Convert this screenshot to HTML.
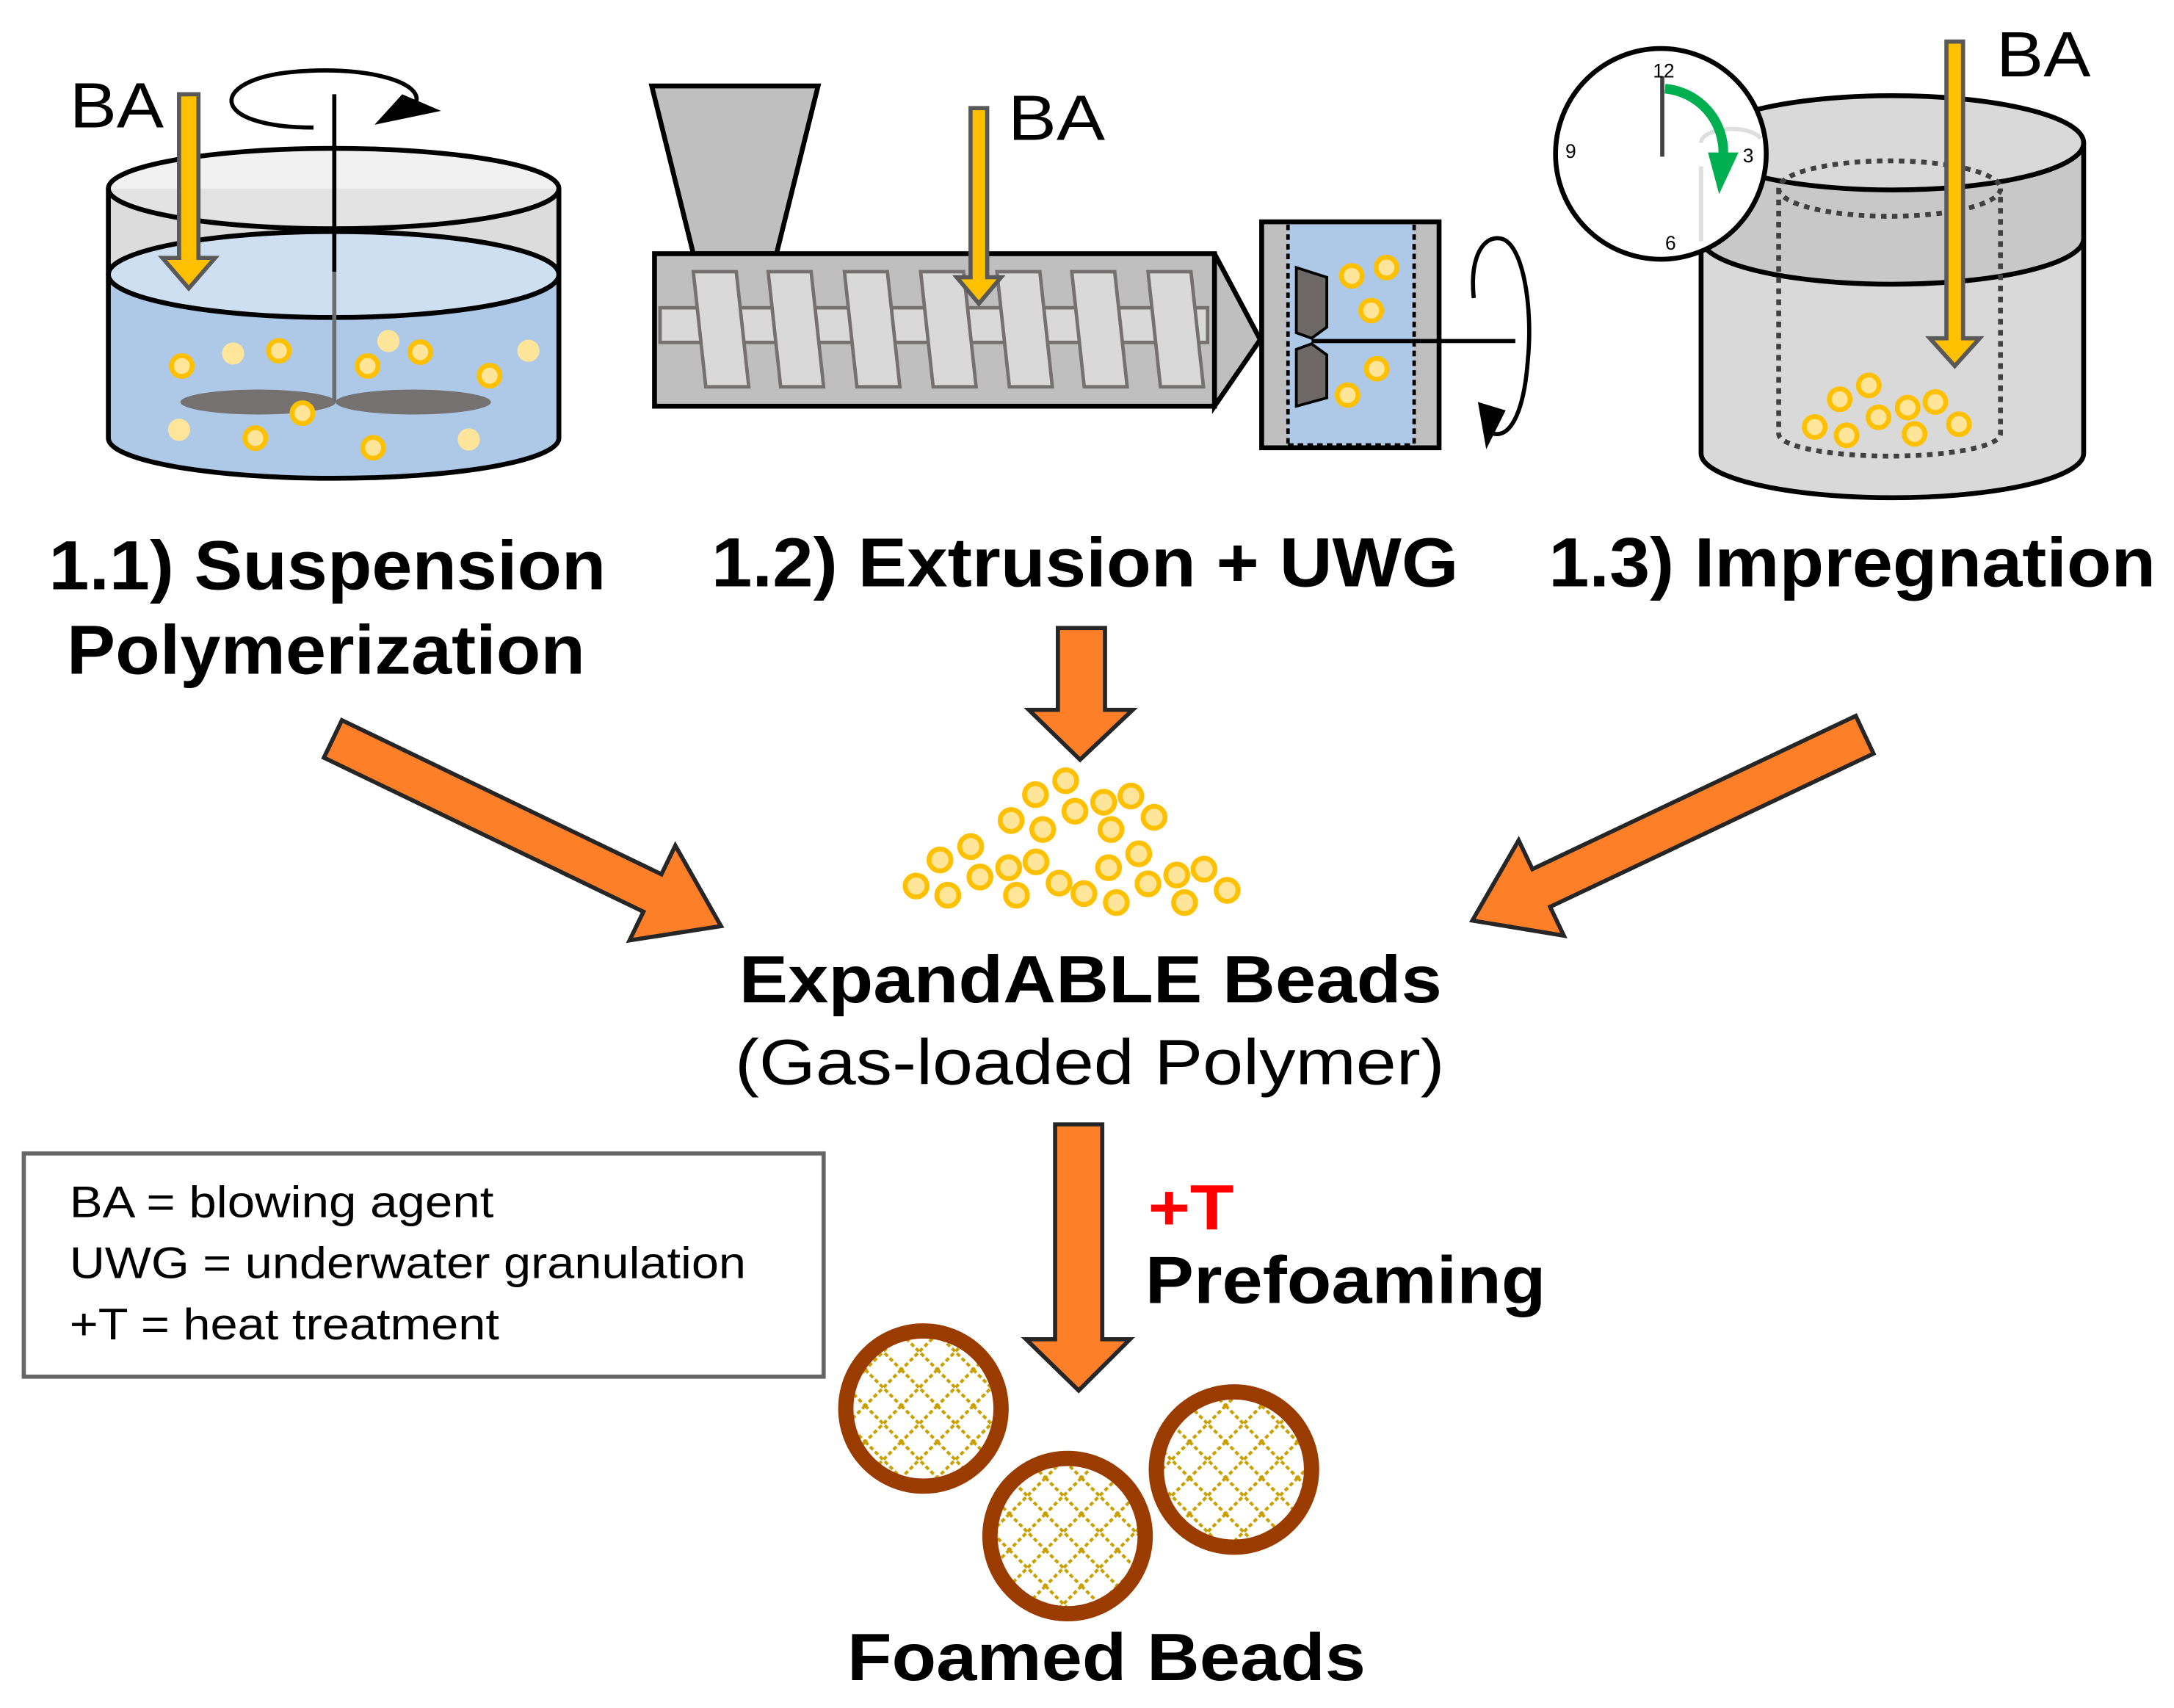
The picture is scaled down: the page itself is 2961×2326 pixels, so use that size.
<!DOCTYPE html>
<html><head><meta charset="utf-8"><style>html,body{margin:0;padding:0;background:#fff}svg{display:block}text{font-family:"Liberation Sans",Arial,sans-serif}</style></head>
<body>
<svg width="2961" height="2326" viewBox="0 0 1568 1232" xmlns="http://www.w3.org/2000/svg">
<defs>
<pattern id="hatch" width="26" height="26" patternUnits="userSpaceOnUse">
<rect width="26" height="26" fill="#fff"/>
<path d="M0 0 L26 26 M26 0 L0 26" stroke="#c9a000" stroke-width="2.2" stroke-dasharray="3 2"/>
</pattern>
<g id="ybead"><circle r="7.5" fill="#ffe599" stroke="#ffc000" stroke-width="3.5"/></g>
</defs>

<!-- Panel 1 tank -->
<path d="M78 136 L78 316 A162.5 29 0 0 0 403 316 L403 136 Z" fill="#dcdcdc"/>
<path d="M78 198 L78 316 A162.5 29 0 0 0 403 316 L403 198 Z" fill="#aec8e8"/>
<ellipse cx="240.5" cy="198" rx="162.5" ry="31" fill="#cfdff2" stroke="#000" stroke-width="3.5"/>
<ellipse cx="240.5" cy="136" rx="162.5" ry="29" fill="#e8e8e8" fill-opacity="0.6" stroke="#000" stroke-width="3.5"/>
<path d="M78 136 L78 316 A162.5 29 0 0 0 403 316 L403 136" fill="none" stroke="#000" stroke-width="3.5"/>
<g>
<use href="#ybead" x="131" y="264"/><circle cx="168" cy="255" r="8" fill="#ffe599"/><use href="#ybead" x="201" y="253"/>
<circle cx="280" cy="246" r="8" fill="#ffe599"/><use href="#ybead" x="265" y="264"/><use href="#ybead" x="303" y="254"/>
<use href="#ybead" x="353" y="271"/><circle cx="381" cy="253" r="8" fill="#ffe599"/><circle cx="129" cy="310" r="8" fill="#ffe599"/>
<use href="#ybead" x="184" y="316"/><use href="#ybead" x="269" y="323"/><circle cx="338" cy="317" r="8" fill="#ffe599"/>
</g>
<ellipse cx="186" cy="290" rx="56" ry="9" fill="#767171"/>
<ellipse cx="298" cy="290" rx="56" ry="9" fill="#767171"/>
<use href="#ybead" x="218" y="298"/>
<line x1="241" y1="68" x2="241" y2="196" stroke="#000" stroke-width="3"/>
<line x1="241" y1="196" x2="241" y2="290" stroke="#6d6d6d" stroke-width="3"/>
<path d="M226 92 C150 92 150 58 210 52 C260 47 305 58 300 74" fill="none" stroke="#000" stroke-width="3"/>
<polygon points="270,90 318,80 290,68" fill="#000"/>
<polygon points="129,68 143,68 143,186 155,186 136,208 117,186 129,186" fill="#ffc000" stroke="#595959" stroke-width="3"/>
<text x="50" y="92" font-size="46" textLength="68" lengthAdjust="spacingAndGlyphs">BA</text>

<!-- Panel 2 extruder -->
<polygon points="470,62 590,62 560,183 500,183" fill="#bfbfbf" stroke="#000" stroke-width="3.5"/>
<rect x="472" y="183" width="404" height="110" fill="#bfbfbf" stroke="#000" stroke-width="3.5"/>
<polygon points="876,183 909,245 876,293" fill="#bfbfbf" stroke="#000" stroke-width="3.5"/>
<rect x="476" y="222" width="395" height="25" fill="#d9d9d9" stroke="#767171" stroke-width="2.5"/>
<g fill="#d9d9d9" stroke="#767171" stroke-width="2.5">
<polygon points="500,196 531,196 540,279 509,279"/>
<polygon points="554,196 585,196 594,279 563,279"/>
<polygon points="609,196 640,196 649,279 618,279"/>
<polygon points="664,196 695,196 704,279 673,279"/>
<polygon points="719,196 750,196 759,279 728,279"/>
<polygon points="773,196 804,196 813,279 782,279"/>
<polygon points="828,196 859,196 868,279 837,279"/>
</g>
<polygon points="700,78 712,78 712,200 722,200 706,219 690,200 700,200" fill="#ffc000" stroke="#595959" stroke-width="3"/>
<text x="727" y="101" font-size="46" textLength="70" lengthAdjust="spacingAndGlyphs">BA</text>
<rect x="910" y="160" width="128" height="163" fill="#bfbfbf" stroke="#000" stroke-width="3.5"/>
<rect x="929" y="162" width="91" height="159" fill="#aec8e8"/>
<line x1="929" y1="162" x2="929" y2="321" stroke="#000" stroke-width="2.5" stroke-dasharray="4 3"/>
<line x1="1020" y1="162" x2="1020" y2="321" stroke="#000" stroke-width="2.5" stroke-dasharray="4 3"/>
<line x1="929" y1="321" x2="1020" y2="321" stroke="#000" stroke-width="2.5" stroke-dasharray="4 3"/>
<polygon points="935,193 957,200 957,236 946,244 935,240" fill="#6d6767" stroke="#000" stroke-width="2"/>
<polygon points="935,252 946,248 957,256 957,287 935,293" fill="#6d6767" stroke="#000" stroke-width="2"/>
<line x1="946" y1="246" x2="1093" y2="246" stroke="#000" stroke-width="3"/>
<use href="#ybead" x="975" y="199"/><use href="#ybead" x="1000" y="193"/><use href="#ybead" x="989" y="224"/>
<use href="#ybead" x="993" y="266"/><use href="#ybead" x="972" y="285"/>
<path d="M1063 215 C1060 185 1070 170 1082 172 C1098 174 1106 220 1102 260 C1099 300 1088 318 1075 312" fill="none" stroke="#000" stroke-width="3"/>
<polygon points="1066,290 1086,296 1072,324" fill="#000"/>

<!-- Panel 3 impregnation -->
<path d="M1227 103 L1227 327 A138 32 0 0 0 1503 327 L1503 103 Z" fill="#d9d9d9"/>
<path d="M1227 103 L1227 172 A138 33 0 0 0 1503 172 L1503 103 Z" fill="#c8c8c8"/>
<ellipse cx="1365" cy="103" rx="138" ry="34" fill="#d9d9d9" stroke="#000" stroke-width="3.5"/>
<path d="M1227 172 A138 33 0 0 0 1503 172" fill="none" stroke="#000" stroke-width="3.5"/>
<path d="M1227 103 L1227 327 A138 32 0 0 0 1503 327 L1503 103" fill="none" stroke="#000" stroke-width="3.5"/>
<g fill="none" stroke="#404040" stroke-width="3.5" stroke-dasharray="4 4">
<ellipse cx="1363" cy="136" rx="80" ry="20"/>
<path d="M1283 136 L1283 313 A80 16 0 0 0 1443 313 L1443 136"/>
</g>
<use href="#ybead" x="1309" y="308"/><use href="#ybead" x="1327" y="288"/><use href="#ybead" x="1348" y="278"/>
<use href="#ybead" x="1332" y="314"/><use href="#ybead" x="1355" y="301"/><use href="#ybead" x="1376" y="294"/>
<use href="#ybead" x="1396" y="290"/><use href="#ybead" x="1381" y="313"/><use href="#ybead" x="1413" y="306"/>
<polygon points="1404,30 1416,30 1416,244 1428,244 1410,264 1392,244 1404,244" fill="#ffc000" stroke="#595959" stroke-width="3"/>
<text x="1440" y="55" font-size="46" textLength="68" lengthAdjust="spacingAndGlyphs">BA</text>
<circle cx="1198" cy="111" r="76" fill="#fff" stroke="#000" stroke-width="3.5"/>
<path d="M1227 120 L1227 174 M1227 103 A22 10 0 0 1 1270 100" fill="none" stroke="#d0d0d0" stroke-width="3" opacity="0.7"/>
<line x1="1199" y1="55" x2="1199" y2="113" stroke="#404040" stroke-width="3"/>
<path d="M1201 64 A46 46 0 0 1 1243 112" fill="none" stroke="#00b050" stroke-width="7"/>
<polygon points="1232,110 1254,110 1240,140" fill="#00b050"/>
<text x="1200" y="56" font-size="14" text-anchor="middle">12</text>
<text x="1133" y="114" font-size="14" text-anchor="middle">9</text>
<text x="1261" y="117" font-size="14" text-anchor="middle">3</text>
<text x="1205" y="180" font-size="14" text-anchor="middle">6</text>

<!-- Labels -->
<g font-weight="bold" font-size="50">
<text x="35" y="425" textLength="402" lengthAdjust="spacingAndGlyphs">1.1) Suspension</text>
<text x="48" y="486" textLength="374" lengthAdjust="spacingAndGlyphs">Polymerization</text>
<text x="513" y="423" textLength="539" lengthAdjust="spacingAndGlyphs">1.2) Extrusion + UWG</text>
<text x="1117" y="423" textLength="438" lengthAdjust="spacingAndGlyphs">1.3) Impregnation</text>
<text x="533" y="723" font-size="48" textLength="507" lengthAdjust="spacingAndGlyphs">ExpandABLE Beads</text>
<text x="826" y="940" font-size="48" textLength="289" lengthAdjust="spacingAndGlyphs">Prefoaming</text>
<text x="828" y="887" font-size="46" fill="#ff0000" textLength="62" lengthAdjust="spacingAndGlyphs">+T</text>
<text x="611" y="1212" font-size="48" textLength="374" lengthAdjust="spacingAndGlyphs">Foamed Beads</text>
</g>
<text x="530" y="782" font-size="46" textLength="512" lengthAdjust="spacingAndGlyphs">(Gas-loaded Polymer)</text>

<!-- Orange arrows -->
<g fill="#fd7f28" stroke="#262626" stroke-width="3" stroke-linejoin="miter">
<polygon points="246.5,519.5 477,630.6 487,609.9 520,668 454,678.3 464,657.6 233.5,546.5"/>
<polygon points="1338.6,516.4 1105.3,626.9 1095.4,606.1 1062,664 1128,674.9 1118.1,654.1 1351.4,543.6"/>
<polygon points="763,453 797,453 797,512 817,512 779,548 742,512 763,512"/>
<polygon points="761,811 795,811 795,966 815,966 778,1003 740,966 761,966"/>
</g>

<!-- Bead pile -->
<g transform="translate(635.6,545.6) scale(0.1757)" fill="#ffe599" stroke="#ffc000" stroke-width="20">
<circle cx="757" cy="100" r="45"/><circle cx="633" cy="157" r="45"/><circle cx="533" cy="263" r="45"/>
<circle cx="663" cy="300" r="45"/><circle cx="795" cy="225" r="45"/><circle cx="913" cy="188" r="45"/>
<circle cx="1025" cy="163" r="45"/><circle cx="1120" cy="250" r="45"/><circle cx="943" cy="300" r="45"/>
<circle cx="367" cy="370" r="45"/><circle cx="241" cy="425" r="45"/><circle cx="143" cy="532" r="45"/>
<circle cx="273" cy="570" r="45"/><circle cx="405" cy="495" r="45"/><circle cx="523" cy="457" r="45"/>
<circle cx="635" cy="433" r="45"/><circle cx="555" cy="570" r="45"/><circle cx="730" cy="520" r="45"/>
<circle cx="832" cy="563" r="45"/><circle cx="933" cy="457" r="45"/><circle cx="1057" cy="400" r="45"/>
<circle cx="965" cy="600" r="45"/><circle cx="1095" cy="523" r="45"/><circle cx="1213" cy="487" r="45"/>
<circle cx="1325" cy="463" r="45"/><circle cx="1245" cy="600" r="45"/><circle cx="1420" cy="550" r="45"/>
</g>

<!-- Legend -->
<rect x="17" y="832" width="577" height="161" fill="#fff" stroke="#666" stroke-width="3"/>
<g font-size="32">
<text x="50" y="878" textLength="306" lengthAdjust="spacingAndGlyphs">BA = blowing agent</text>
<text x="50" y="922" textLength="488" lengthAdjust="spacingAndGlyphs">UWG = underwater granulation</text>
<text x="50" y="966" textLength="310" lengthAdjust="spacingAndGlyphs">+T = heat treatment</text>
</g>

<!-- Foamed beads -->
<g fill="url(#hatch)" stroke="#9a3b00" stroke-width="11">
<circle cx="666" cy="1016" r="56"/>
<circle cx="770" cy="1108" r="56"/>
<circle cx="890" cy="1060" r="56"/>
</g>
</svg>
</body></html>
